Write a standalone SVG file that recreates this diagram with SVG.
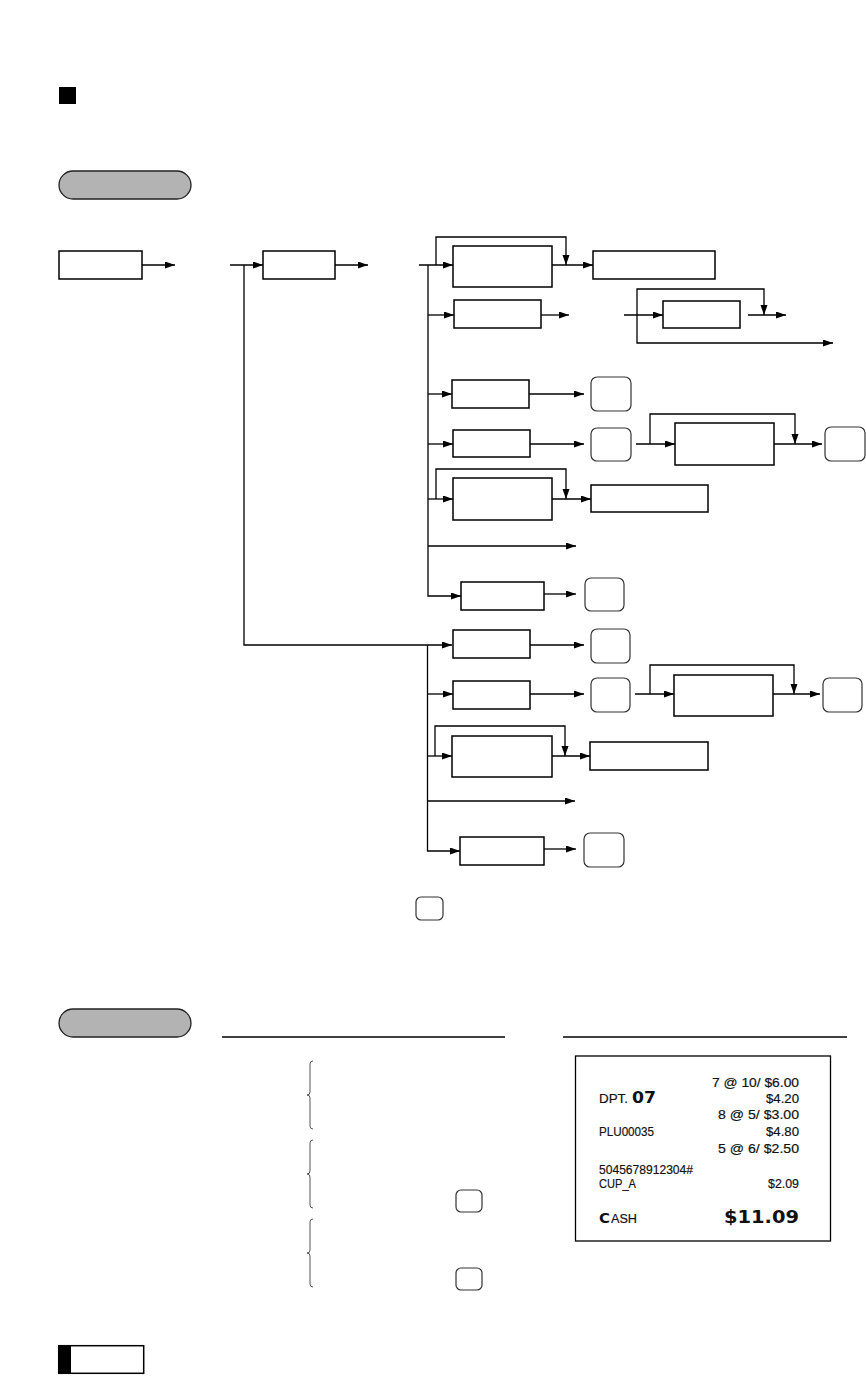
<svg xmlns="http://www.w3.org/2000/svg" width="866" height="1377" viewBox="0 0 866 1377">
<style>
.bx{fill:#fff;stroke:#000;stroke-width:1.5}
.key{fill:#fff;stroke:#333;stroke-width:1.2}
.pill{fill:#b3b3b3;stroke:#222;stroke-width:1.3}
.ln{fill:none;stroke:#000;stroke-width:1.3}
.ar{fill:none;stroke:#000;stroke-width:1.3;marker-end:url(#ah)}
.br{fill:none;stroke:#555;stroke-width:1}
.rc{font-family:"Liberation Sans",Arial,sans-serif;font-size:13.5px;fill:#111;stroke:#111;stroke-width:0.2}
.rb{font-family:"DejaVu Sans",Verdana,sans-serif;font-weight:bold;fill:#111}
</style>
<defs>
<marker id="ah" markerUnits="userSpaceOnUse" markerWidth="11" markerHeight="8" refX="10" refY="3.5" orient="auto">
<path d="M0,0 L10,3.5 L0,7 z" fill="#000"/>
</marker>
</defs>
<rect width="866" height="1377" fill="#fff"/>

<g id="header">
<rect x="59" y="87" width="17" height="17" fill="#000"/>
<rect class="pill" x="59" y="171" width="132" height="28" rx="14"/>
</g>

<g id="connectors">
<path class="ar" d="M142,265 H175"/>
<path class="ar" d="M230,265 H263"/>
<path class="ar" d="M244,265 V645 H452"/>
<path class="ar" d="M335,265 H368"/>
<path class="ar" d="M419,265 H453"/>
<path class="ar" d="M428,265 V596 H461"/>
<path class="ar" d="M436,265 V237 H566 V265"/>
<path class="ar" d="M552,265 H593"/>
<path class="ar" d="M428,315 H454"/>
<path class="ar" d="M541,315 H569"/>
<path class="ar" d="M624,315 H663"/>
<path class="ar" d="M637,315 V289 H764 V315"/>
<path class="ar" d="M637,315 V343 H833"/>
<path class="ar" d="M748,315 H786"/>
<path class="ar" d="M428,394 H452"/>
<path class="ar" d="M529,394 H584"/>
<path class="ar" d="M428,444 H453"/>
<path class="ar" d="M530,444 H584"/>
<path class="ar" d="M636,444 H675"/>
<path class="ar" d="M650,444 V414 H795 V444"/>
<path class="ar" d="M774,444 H822"/>
<path class="ar" d="M428,499 H453"/>
<path class="ar" d="M436,499 V469 H566 V499"/>
<path class="ar" d="M552,499 H591"/>
<path class="ar" d="M428,546 H576"/>
<path class="ar" d="M544,594 H576"/>
<path class="ar" d="M427.5,645 V851 H460"/>
<path class="ar" d="M530,645 H584"/>
<path class="ar" d="M427.5,694 H453"/>
<path class="ar" d="M530,694 H584"/>
<path class="ar" d="M635,694 H674"/>
<path class="ar" d="M650,694 V665 H794 V694"/>
<path class="ar" d="M773,694 H820"/>
<path class="ar" d="M427.5,756 H452"/>
<path class="ar" d="M435,756 V726 H565 V756"/>
<path class="ar" d="M552,756 H590"/>
<path class="ar" d="M427.5,801 H575"/>
<path class="ar" d="M544,849 H576"/>
</g>

<g id="n-start"><rect class="bx" x="59" y="251" width="83" height="28"/></g>
<g id="n-b2"><rect class="bx" x="263" y="251" width="72" height="28"/></g>
<g id="n-a"><rect class="bx" x="453" y="246" width="99" height="41"/></g>
<g id="n-b"><rect class="bx" x="593" y="251" width="122" height="28"/></g>
<g id="n-c"><rect class="bx" x="454" y="300" width="87" height="28"/></g>
<g id="n-d"><rect class="bx" x="663" y="301" width="77" height="27"/></g>
<g id="n-e"><rect class="bx" x="452" y="380" width="77" height="28"/></g>
<g id="k1"><rect class="key" x="591" y="377" width="40" height="34" rx="6"/></g>
<g id="n-f"><rect class="bx" x="453" y="430" width="77" height="27"/></g>
<g id="k2"><rect class="key" x="591" y="428" width="40" height="33" rx="6"/></g>
<g id="n-g"><rect class="bx" x="675" y="423" width="99" height="42"/></g>
<g id="k3"><rect class="key" x="825" y="427" width="40" height="34" rx="6"/></g>
<g id="n-h"><rect class="bx" x="453" y="478" width="99" height="42"/></g>
<g id="n-i"><rect class="bx" x="591" y="485" width="117" height="27"/></g>
<g id="n-j"><rect class="bx" x="461" y="582" width="83" height="28"/></g>
<g id="k4"><rect class="key" x="585" y="578" width="39" height="33" rx="6"/></g>
<g id="n-k"><rect class="bx" x="453" y="630" width="77" height="28"/></g>
<g id="k5"><rect class="key" x="591" y="629" width="39" height="34" rx="6"/></g>
<g id="n-l"><rect class="bx" x="453" y="681" width="77" height="28"/></g>
<g id="k6"><rect class="key" x="591" y="678" width="39" height="34" rx="6"/></g>
<g id="n-m"><rect class="bx" x="674" y="675" width="99" height="41"/></g>
<g id="k7"><rect class="key" x="823" y="678" width="39" height="34" rx="6"/></g>
<g id="n-n"><rect class="bx" x="452" y="736" width="100" height="41"/></g>
<g id="n-o"><rect class="bx" x="590" y="742" width="118" height="28"/></g>
<g id="n-p"><rect class="bx" x="460" y="837" width="84" height="28"/></g>
<g id="k8"><rect class="key" x="584" y="833" width="40" height="34" rx="6"/></g>

<g id="note-key"><rect class="key" x="416" y="897" width="27" height="23" rx="5"/></g>

<g id="example">
<rect class="pill" x="59" y="1009" width="132" height="28" rx="14"/>
<line class="ln" x1="222" y1="1037" x2="505" y2="1037"/>
<line class="ln" x1="563" y1="1037" x2="847" y2="1037"/>
<path class="br" d="M313,1061 Q310,1061 310,1064 V1092 Q310,1095 307,1095 Q310,1095 310,1098 V1126 Q310,1129 313,1129"/>
<path class="br" d="M313,1140 Q310,1140 310,1143 V1171 Q310,1174 307,1174 Q310,1174 310,1177 V1205 Q310,1208 313,1208"/>
<path class="br" d="M313,1219 Q310,1219 310,1222 V1250 Q310,1253 307,1253 Q310,1253 310,1256 V1284 Q310,1287 313,1287"/>
<rect class="key" x="456" y="1190" width="26" height="22" rx="5"/>
<rect class="key" x="456" y="1268" width="26" height="22" rx="5"/>
</g>

<g id="receipt">
<rect x="575.5" y="1056" width="255" height="185" fill="#fff" stroke="#000" stroke-width="1.3"/>
<text class="rc" x="712" y="1086.5" textLength="87" lengthAdjust="spacingAndGlyphs">7 @ 10/ $6.00</text>
<text class="rc" x="599" y="1103.3" textLength="29" lengthAdjust="spacingAndGlyphs">DPT.</text>
<text class="rb" x="632" y="1103.3" font-size="15" textLength="24" lengthAdjust="spacingAndGlyphs">07</text>
<text class="rc" x="766" y="1103.3" textLength="33" lengthAdjust="spacingAndGlyphs">$4.20</text>
<text class="rc" x="718" y="1119" textLength="81" lengthAdjust="spacingAndGlyphs">8 @ 5/ $3.00</text>
<text class="rc" x="599" y="1135.7" textLength="55" lengthAdjust="spacingAndGlyphs">PLU00035</text>
<text class="rc" x="766" y="1135.7" textLength="33" lengthAdjust="spacingAndGlyphs">$4.80</text>
<text class="rc" x="718" y="1153.3" textLength="81" lengthAdjust="spacingAndGlyphs">5 @ 6/ $2.50</text>
<text class="rc" x="599" y="1174.3" textLength="94" lengthAdjust="spacingAndGlyphs">5045678912304#</text>
<text class="rc" x="599" y="1188.3" textLength="37" lengthAdjust="spacingAndGlyphs">CUP_A</text>
<text class="rc" x="768" y="1188.3" textLength="31" lengthAdjust="spacingAndGlyphs">$2.09</text>
<text class="rb" x="599" y="1222.7" font-size="14" textLength="11" lengthAdjust="spacingAndGlyphs">C</text>
<text class="rc" x="611" y="1222.7" textLength="26" lengthAdjust="spacingAndGlyphs">ASH</text>
<text class="rb" x="724" y="1223" font-size="18" textLength="75" lengthAdjust="spacingAndGlyphs">$11.09</text>
</g>

<g id="footer">
<rect x="58.7" y="1345.7" width="85" height="27.6" fill="#fff" stroke="#000" stroke-width="1.5"/>
<rect x="58" y="1345" width="13" height="29" fill="#000"/>
</g>
</svg>
